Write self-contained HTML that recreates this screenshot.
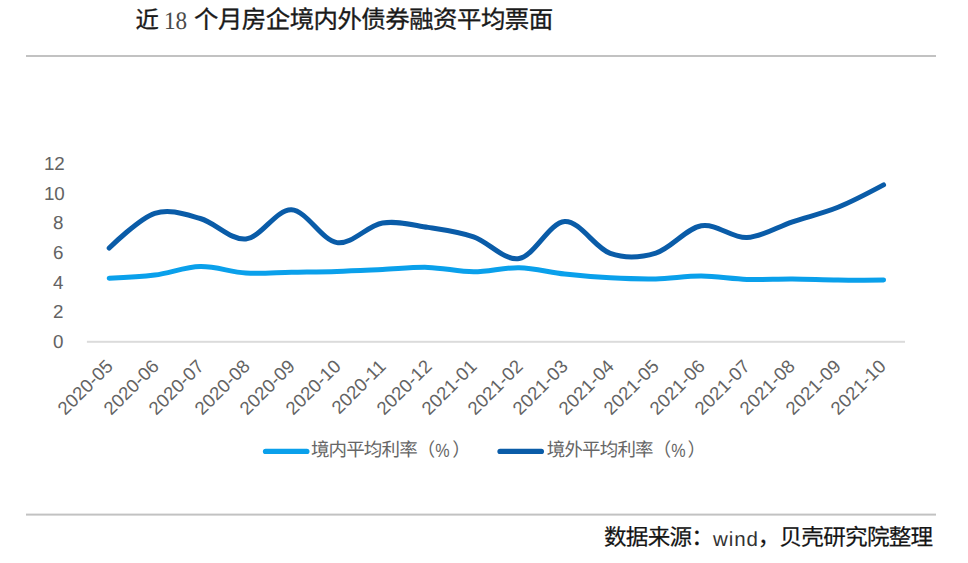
<!DOCTYPE html>
<html lang="zh-CN">
<head>
<meta charset="utf-8">
<title>近 18 个月房企境内外债券融资平均票面</title>
<style>
html,body{margin:0;padding:0;background:#fff;}
body{width:968px;height:563px;overflow:hidden;position:relative;font-family:"Liberation Sans",sans-serif;text-rendering:geometricPrecision;-webkit-font-smoothing:antialiased;}
#chart{position:absolute;left:0;top:0;width:968px;height:563px;overflow:hidden;background:#fff;}
.t{position:absolute;white-space:nowrap;line-height:1;}
.ghost{white-space:pre;font-family:"Liberation Sans","Noto Sans CJK SC",sans-serif;}
.ttl{color:#1a1a1a;-webkit-text-stroke:0.35px #1a1a1a;}
.lg{color:#666666;letter-spacing:-0.85px;}
.src{color:#151515;-webkit-text-stroke:0.2px #151515;letter-spacing:-0.75px;}
.yl{font-size:18.80px;color:#636363;text-align:right;width:40px;}
.xl{letter-spacing:0.15px;font-size:18.50px;color:#636363;transform-origin:100% 50%;transform:rotate(-45deg);text-align:right;width:90px;}
.n18{font-family:"Liberation Serif",serif;font-size:25.20px;color:#4a4a4a;transform:scaleX(.92);transform-origin:0 50%;}
.pct{font-size:19.20px;color:#666666;transform:scaleX(.84);transform-origin:50% 50%;}
.wind{font-size:20.50px;color:#333333;letter-spacing:.9px;}
</style>
</head>
<body>
<div id="chart">
<svg width="968" height="563" viewBox="0 0 968 563" style="position:absolute;left:0;top:0">
<rect x="26.00" y="55.00" width="910.00" height="2.00" fill="#c2c2c2"/>
<rect x="26.00" y="513.60" width="910.00" height="2.00" fill="#c2c2c2"/>
<rect x="86.90" y="340.80" width="818.10" height="2.00" fill="#dbdbdb"/>
<path d="M109.20 278.20C109.20 278.20 139.57 277.03 154.75 275.10C169.93 273.17 185.12 266.95 200.30 266.60C215.48 266.25 230.67 272.07 245.85 273.00C261.03 273.93 276.22 272.47 291.40 272.20C306.58 271.93 321.77 271.85 336.95 271.40C352.13 270.95 367.32 270.17 382.50 269.50C397.68 268.83 412.87 267.02 428.05 267.40C443.23 267.78 458.42 271.75 473.60 271.80C488.78 271.85 503.97 267.33 519.15 267.70C534.33 268.07 549.52 272.32 564.70 274.00C579.88 275.68 595.07 276.98 610.25 277.80C625.43 278.62 640.62 279.18 655.80 278.90C670.98 278.62 686.17 276.02 701.35 276.10C716.53 276.18 731.72 278.92 746.90 279.40C762.08 279.88 777.27 278.88 792.45 279.00C807.63 279.12 822.82 279.95 838.00 280.10C853.18 280.25 883.55 279.90 883.55 279.90" fill="none" stroke="#0AA0EB" stroke-width="5.00" stroke-linecap="round" stroke-linejoin="round"/>
<path d="M109.20 248.00C109.20 248.00 139.57 218.22 154.75 213.30C169.93 208.38 185.12 214.22 200.30 218.50C215.48 222.78 230.67 240.45 245.85 239.00C261.03 237.55 276.22 209.20 291.40 209.80C306.58 210.40 321.77 240.40 336.95 242.60C352.13 244.80 367.32 225.53 382.50 223.00C397.68 220.47 412.87 225.08 428.05 227.40C443.23 229.72 458.42 231.72 473.60 236.90C488.78 242.08 503.97 261.07 519.15 258.50C534.33 255.93 549.52 222.35 564.70 221.50C579.88 220.65 595.07 248.13 610.25 253.40C625.43 258.67 640.62 257.70 655.80 253.10C670.98 248.50 686.17 228.38 701.35 225.80C716.53 223.22 731.72 238.27 746.90 237.60C762.08 236.93 777.27 226.85 792.45 221.80C807.63 216.75 822.82 213.45 838.00 207.30C853.18 201.15 883.55 184.90 883.55 184.90" fill="none" stroke="#0A5CA8" stroke-width="5.00" stroke-linecap="round" stroke-linejoin="round"/>
<path d="M265.60 451.40 H306.80" fill="none" stroke="#0AA0EB" stroke-width="5.40" stroke-linecap="round"/>
<path d="M500.10 451.40 H541.30" fill="none" stroke="#0A5CA8" stroke-width="5.40" stroke-linecap="round"/>
</svg>
<div class="line" id="title"><span class="t ghost ttl" style="left:135.4px;top:9.1px;font-size:23.3px">近 </span><span class="t n18" style="left:164.40px;top:9.00px">18</span><span class="t ghost ttl" style="left:187.7px;top:8.5px;font-size:24.4px;letter-spacing:-0.48px"> 个月房企境内外债券融资平均票面</span></div>
<div class="t yl" style="left:24.80px;top:155.20px">12</div>
<div class="t yl" style="left:24.80px;top:184.80px">10</div>
<div class="t yl" style="left:23.50px;top:214.40px">8</div>
<div class="t yl" style="left:23.50px;top:244.00px">6</div>
<div class="t yl" style="left:23.50px;top:273.60px">4</div>
<div class="t yl" style="left:23.50px;top:303.20px">2</div>
<div class="t yl" style="left:23.50px;top:332.80px">0</div>
<div class="t xl" style="left:20.40px;top:354.15px">2020-05</div>
<div class="t xl" style="left:65.87px;top:354.15px">2020-06</div>
<div class="t xl" style="left:111.34px;top:354.15px">2020-07</div>
<div class="t xl" style="left:156.81px;top:354.15px">2020-08</div>
<div class="t xl" style="left:202.28px;top:354.15px">2020-09</div>
<div class="t xl" style="left:247.75px;top:354.15px">2020-10</div>
<div class="t xl" style="left:293.22px;top:354.15px">2020-11</div>
<div class="t xl" style="left:338.69px;top:354.15px">2020-12</div>
<div class="t xl" style="left:384.16px;top:354.15px">2021-01</div>
<div class="t xl" style="left:429.63px;top:354.15px">2021-02</div>
<div class="t xl" style="left:475.10px;top:354.15px">2021-03</div>
<div class="t xl" style="left:520.57px;top:354.15px">2021-04</div>
<div class="t xl" style="left:566.04px;top:354.15px">2021-05</div>
<div class="t xl" style="left:611.51px;top:354.15px">2021-06</div>
<div class="t xl" style="left:656.98px;top:354.15px">2021-07</div>
<div class="t xl" style="left:702.45px;top:354.15px">2021-08</div>
<div class="t xl" style="left:747.92px;top:354.15px">2021-09</div>
<div class="t xl" style="left:793.39px;top:354.15px">2021-10</div>
<div class="line legend"><span class="t ghost lg" style="left:310.9px;top:441.4px;font-size:18.5px">境内平均利率（</span><span class="t pct" style="left:434.00px;top:441.90px">%</span><span class="t ghost lg" style="left:452.3px;top:441.4px;font-size:18.5px">）</span></div>
<div class="line legend"><span class="t ghost lg" style="left:546.8px;top:441.4px;font-size:18.5px">境外平均利率（</span><span class="t pct" style="left:669.90px;top:441.90px">%</span><span class="t ghost lg" style="left:687.5px;top:441.4px;font-size:18.5px">）</span></div>
<div class="line" id="source"><span class="t ghost src" style="left:604.0px;top:526.7px;font-size:22.6px">数据来源：</span><span class="t wind" style="left:713.00px;top:529.85px">wind</span><span class="t ghost src" style="left:757.7px;top:526.7px;font-size:22.6px">，贝壳研究院整理</span></div>
</div>
</body>
</html>
